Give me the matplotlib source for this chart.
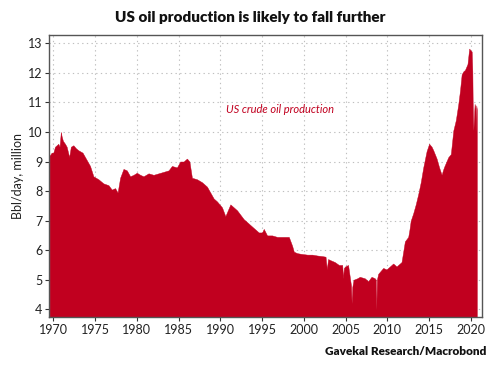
import matplotlib
matplotlib.use("Agg")
import matplotlib.pyplot as plt
import numpy as np

# Decimal years and US crude oil production (million bbl/day)
years = [1969.55, 1969.8, 1970.0, 1970.2, 1970.4, 1970.6, 1970.75, 1970.9, 1971.0, 1971.15,
         1971.4, 1971.6, 1971.9, 1972.1, 1972.4, 1972.7, 1973.0, 1973.5, 1974.0, 1974.4,
         1974.8, 1975.4, 1976.0, 1976.6, 1977.0, 1977.4, 1977.7, 1978.0, 1978.4, 1978.8,
         1979.2, 1979.6, 1980.0, 1980.4, 1980.8, 1981.4, 1982.0, 1982.6, 1983.2, 1983.8,
         1984.2, 1984.8, 1985.2, 1985.6, 1986.0, 1986.3, 1986.6, 1987.2, 1987.8, 1988.4,
         1989.2, 1989.6, 1990.2, 1990.6, 1991.2, 1992.0, 1992.8, 1993.8, 1994.6, 1995.0,
         1995.2, 1995.6, 1996.2, 1996.8, 1997.6, 1998.2, 1998.6, 1998.8, 1999.2, 1999.6,
         2000.4, 2001.0, 2001.6, 2002.2, 2002.6, 2002.75, 2002.9, 2003.2, 2003.7, 2004.2,
         2004.6, 2004.7, 2004.8, 2004.95, 2005.3, 2005.55, 2005.65, 2005.72, 2005.8, 2005.95,
         2006.4, 2006.7, 2007.3, 2007.7, 2008.1, 2008.5, 2008.62, 2008.68, 2008.75, 2008.9,
         2009.2, 2009.5, 2009.9, 2010.3, 2010.7, 2011.1, 2011.5, 2011.7, 2011.9, 2012.1,
         2012.5, 2012.65, 2012.8, 2013.1, 2013.4, 2013.7, 2014.0, 2014.3, 2014.7, 2015.0,
         2015.3, 2015.5, 2015.9, 2016.2, 2016.5, 2016.65, 2016.8, 2017.3, 2017.6, 2017.9,
         2018.2, 2018.5, 2018.7, 2018.9, 2019.1, 2019.3, 2019.6, 2019.8, 2020.0, 2020.1,
         2020.18, 2020.22, 2020.3, 2020.38, 2020.45, 2020.55, 2020.6, 2020.65, 2020.72]
values = [9.2, 9.3, 9.3, 9.5, 9.55, 9.6, 9.5, 10.0, 9.85, 9.7,
          9.6, 9.5, 9.15, 9.5, 9.55, 9.45, 9.38, 9.3, 9.05, 8.85,
          8.5, 8.4, 8.26, 8.2, 8.05, 8.1, 7.95, 8.45, 8.75, 8.7,
          8.5, 8.55, 8.62, 8.55, 8.5, 8.6, 8.55, 8.6, 8.65, 8.7,
          8.85, 8.8, 9.0, 9.0, 9.1, 9.0, 8.45, 8.4, 8.3, 8.15,
          7.75, 7.65, 7.45, 7.15, 7.55, 7.35, 7.05, 6.8, 6.6, 6.6,
          6.72, 6.5, 6.5, 6.45, 6.45, 6.45, 6.15, 5.95, 5.9, 5.88,
          5.85, 5.85, 5.82, 5.8, 5.78, 5.35, 5.7, 5.66, 5.6, 5.5,
          5.5, 5.05, 5.4, 5.45, 5.5, 5.0, 4.8, 4.2, 4.75, 5.0,
          5.05, 5.1, 5.05, 4.95, 5.1, 5.05, 5.0, 3.98, 5.0, 5.2,
          5.3, 5.4, 5.35, 5.45, 5.55, 5.45, 5.55, 5.6, 5.95, 6.3,
          6.45, 6.7, 7.0, 7.25, 7.55, 7.9, 8.3, 8.8, 9.35, 9.6,
          9.5, 9.38, 9.1, 8.8, 8.55, 8.7, 8.82, 9.15, 9.25, 10.05,
          10.4, 10.95, 11.4, 11.95, 12.05, 12.1, 12.3, 12.82, 12.75, 12.72,
          12.05, 11.0, 10.05, 10.5, 10.95, 10.8, 10.0, 10.9, 10.75]

xticks = [1970, 1975, 1980, 1985, 1990, 1995, 2000, 2005, 2010, 2015, 2020]
yticks = [4, 5, 6, 7, 8, 9, 10, 11, 12, 13]

red = "#C1001F"
fam = ["Lato", "DejaVu Sans"]

fig = plt.figure(figsize=(5.0, 3.68), dpi=100)
ax = fig.add_axes([0.0986, 0.1394, 0.8648, 0.7655])

ax.fill_between(years, values, 3.0, color=red, linewidth=0.3, edgecolor=red, zorder=2)

ax.set_xlim(1969.52, 2021.3)
ax.set_ylim(3.75, 13.28)
ax.set_xticks(xticks)
ax.set_yticks(yticks)
ax.set_xticklabels([str(t) for t in xticks], fontfamily=fam, fontsize=9, color="#222222")
ax.set_yticklabels([str(t) for t in yticks], fontfamily=fam, fontsize=9, color="#222222")
ax.tick_params(axis="both", direction="out", length=3, width=0.8, color="#333333", pad=2)
ax.grid(True, linestyle=(0, (1.2, 3)), color="#BFBFBF", linewidth=0.8, zorder=1)
ax.set_axisbelow(True)
for s in ax.spines.values():
    s.set_color("#555555")
    s.set_linewidth(1.0)

ax.set_ylabel("Bbl/day, million", fontfamily=fam, fontsize=9, color="#222222", labelpad=3)

fig.text(0.5, 0.952, "US oil production is likely to fall further", ha="center", va="center",
         fontfamily=fam, fontsize=11, fontweight="heavy", color="#111111")
fig.text(0.972, 0.044, "Gavekal Research/Macrobond", ha="right", va="center",
         fontfamily=fam, fontsize=8.5, fontweight="heavy", color="#111111")
ax.text(1990.7, 10.75, "US crude oil production", ha="left", va="center",
        fontfamily=fam, fontsize=8, fontstyle="italic", color=red)

fig.savefig("out.png", dpi=100)
